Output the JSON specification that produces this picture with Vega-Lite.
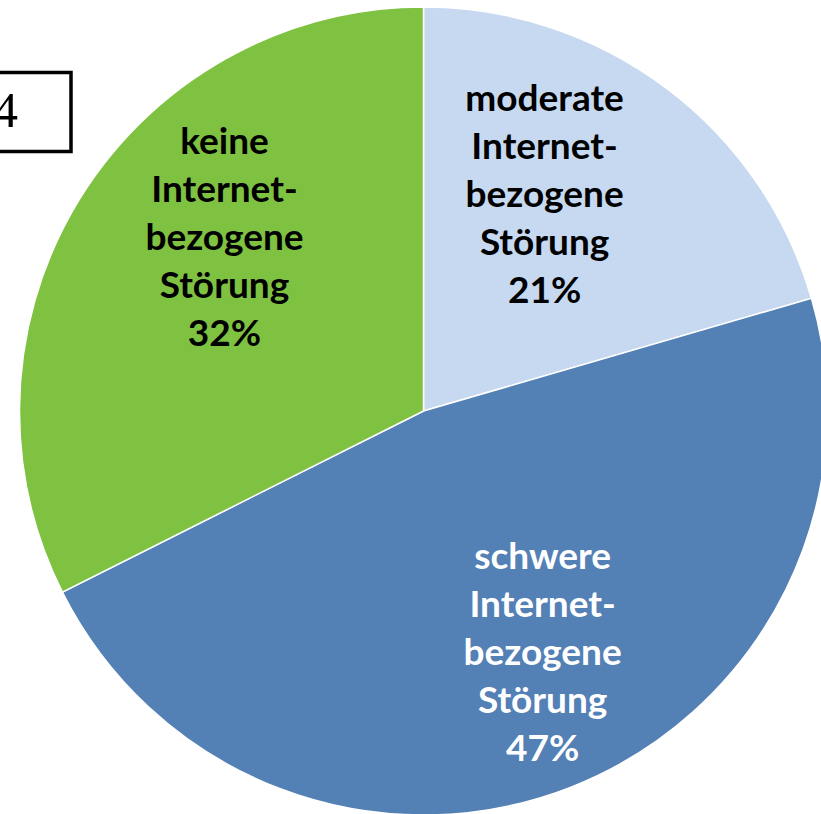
{
  "$schema": "https://vega.github.io/schema/vega-lite/v6.json",
  "width": 847,
  "height": 822,
  "padding": 0,
  "autosize": {"type": "none"},
  "background": "white",
  "config": {"view": {"stroke": null}},
  "data": {
    "values": [
      {"cat": "moderate", "rank": 1, "value": 20.5, "fig": "4", "label": "moderate\nInternet-\nbezogene\nStörung\n21%"},
      {"cat": "schwere", "rank": 2, "value": 47.1, "fig": "4", "label": "schwere\nInternet-\nbezogene\nStörung\n47%"},
      {"cat": "keine", "rank": 3, "value": 32.4, "fig": "4", "label": "keine\nInternet-\nbezogene\nStörung\n32%"}
    ]
  },
  "encoding": {
    "theta": {"field": "value", "type": "quantitative", "stack": true},
    "order": {"field": "rank", "type": "quantitative"}
  },
  "layer": [
    {
      "mark": {"type": "arc", "outerRadius": 404, "stroke": "white", "strokeWidth": 1.5},
      "encoding": {
        "color": {
          "field": "cat",
          "type": "nominal",
          "scale": {"domain": ["moderate", "schwere", "keine"], "range": ["#C6D9F0", "#5380B5", "#7FC241"]},
          "legend": null
        },
        "opacity": {
          "field": "fig",
          "type": "ordinal",
          "scale": {"range": [1, 1]},
          "legend": {
            "title": null,
            "orient": "none",
            "legendX": -10,
            "legendY": 70.5,
            "padding": 0,
            "symbolType": "square",
            "symbolSize": 6241,
            "symbolFillColor": "transparent",
            "symbolStrokeColor": "black",
            "symbolStrokeWidth": 3.5,
            "symbolOpacity": 1,
            "labelOffset": -80,
            "labelFont": "Liberation Serif",
            "labelFontSize": 50,
            "labelColor": "black",
            "encode": {
              "symbols": {"update": {"strokeWidth": {"value": 3.5}, "stroke": {"value": "black"}, "fill": {"value": "transparent"}, "opacity": {"value": 1}}}
            }
          }
        }
      }
    },
    {
      "mark": {"type": "text", "radius": 255, "font": "Lato", "fontWeight": "bold", "fontSize": 37, "lineHeight": 48, "lineBreak": "\n", "color": "black", "dx": -32, "dy": -107, "align": "center", "baseline": "middle"},
      "encoding": {"text": {"condition": {"test": "datum.cat === 'moderate'", "field": "label", "type": "nominal"}, "value": ""}}
    },
    {
      "mark": {"type": "text", "radius": 255, "font": "Lato", "fontWeight": "bold", "fontSize": 37, "lineHeight": 48, "lineBreak": "\n", "color": "white", "dx": 26, "dy": -90, "align": "center", "baseline": "middle"},
      "encoding": {"text": {"condition": {"test": "datum.cat === 'schwere'", "field": "label", "type": "nominal"}, "value": ""}}
    },
    {
      "mark": {"type": "text", "radius": 255, "font": "Lato", "fontWeight": "bold", "fontSize": 37, "lineHeight": 48, "lineBreak": "\n", "color": "black", "dx": 18, "dy": -134, "align": "center", "baseline": "middle"},
      "encoding": {"text": {"condition": {"test": "datum.cat === 'keine'", "field": "label", "type": "nominal"}, "value": ""}}
    }
  ]
}
